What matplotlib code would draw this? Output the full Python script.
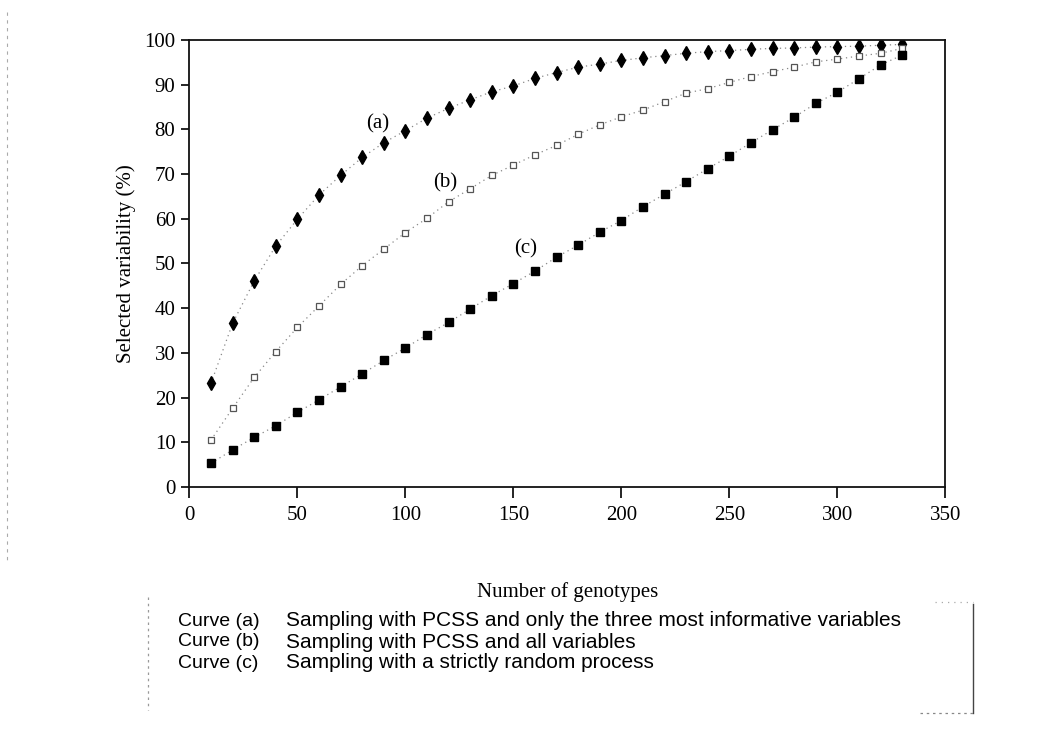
import matplotlib
matplotlib.use("Agg")
import matplotlib.pyplot as plt
from matplotlib.lines import Line2D

# Number of genotypes sampled
genotypes = [10, 20, 30, 40, 50, 60, 70, 80, 90, 100, 110, 120, 130, 140, 150,
             160, 170, 180, 190, 200, 210, 220, 230, 240, 250, 260, 270, 280,
             290, 300, 310, 320, 330]

# Curve (a): PCSS with the three most informative variables
curve_a = [23.2, 36.6, 46.1, 53.9, 59.9, 65.3, 69.7, 73.7, 77.0, 79.7, 82.5,
           84.7, 86.6, 88.4, 89.7, 91.4, 92.7, 93.9, 94.6, 95.4, 96.0, 96.5,
           97.0, 97.4, 97.6, 97.9, 98.1, 98.2, 98.4, 98.5, 98.6, 98.8, 99.0]

# Curve (b): PCSS with all variables
curve_b = [10.5, 17.6, 24.5, 30.3, 35.7, 40.5, 45.3, 49.5, 53.2, 56.9, 60.1,
           63.8, 66.7, 69.7, 72.0, 74.3, 76.4, 78.9, 81.0, 82.8, 84.3, 86.2,
           88.1, 89.1, 90.5, 91.8, 92.9, 93.9, 95.1, 95.7, 96.4, 97.0, 98.1]

# Curve (c): strictly random sampling
curve_c = [5.3, 8.3, 11.1, 13.7, 16.7, 19.5, 22.4, 25.3, 28.3, 31.1, 34.1,
           36.8, 39.8, 42.8, 45.5, 48.3, 51.4, 54.1, 57.0, 59.6, 62.7, 65.5,
           68.3, 71.2, 74.0, 77.0, 79.9, 82.7, 85.8, 88.3, 91.3, 94.4, 96.6]

x_ticks = [0, 50, 100, 150, 200, 250, 300, 350]
y_ticks = [0, 10, 20, 30, 40, 50, 60, 70, 80, 90, 100]

legend_keys = ["Curve (a)", "Curve (b)", "Curve (c)"]
legend_texts = ["Sampling with PCSS and only the three most informative variables",
                "Sampling with PCSS and all variables",
                "Sampling with a strictly random process"]

serif = ["Liberation Serif", "DejaVu Serif"]
sans = ["Liberation Sans", "DejaVu Sans"]

fig = plt.figure(figsize=(10.61, 7.39), dpi=100)
ax = fig.add_axes([0.1785, 0.341, 0.7125, 0.605])

line_kw = dict(color="#888888", linestyle=(0, (1, 3)), linewidth=0.9)
ax.plot(genotypes, curve_a, marker="d", markersize=7.5, markerfacecolor="black",
        markeredgecolor="black", **line_kw)
ax.plot(genotypes, curve_b, marker="s", markersize=5, markerfacecolor="white",
        markeredgecolor="#555555", markeredgewidth=0.9, **line_kw)
ax.plot(genotypes, curve_c, marker="s", markersize=6, markerfacecolor="black",
        markeredgecolor="black", **line_kw)

ax.text(87, 81.2, "(a)", fontsize=15, family=serif, ha="center", va="center")
ax.text(118.4, 68.0, "(b)", fontsize=15, family=serif, ha="center", va="center")
ax.text(155.5, 53.3, "(c)", fontsize=15, family=serif, ha="center", va="center")

ax.set_xlim(0, 350)
ax.set_ylim(0, 100)
ax.set_xticks(x_ticks)
ax.set_yticks(y_ticks)
ax.set_xticklabels([str(v) for v in x_ticks], fontsize=15, family=serif)
ax.set_yticklabels([str(v) for v in y_ticks], fontsize=15, family=serif)
ax.tick_params(axis="x", direction="out", length=8, width=1.2, pad=6)
ax.tick_params(axis="y", direction="out", length=6, width=1.2, pad=4)
for side in ["left", "bottom", "top", "right"]:
    ax.spines[side].set_linewidth(1.3)
    ax.spines[side].set_color("#111111")
ax.spines["top"].set_linestyle((0, (8, 1)))

ax.set_xlabel("Number of genotypes", fontsize=15, family=serif, labelpad=41)
ax.set_ylabel("Selected variability (%)", fontsize=15, family=serif, labelpad=6)

# Caption box describing the three curves
def fx(px):
    return px / 1061.0

def fy(py):
    return 1.0 - py / 739.0

fig.add_artist(Line2D([fx(148), fx(148)], [fy(597), fy(710)], transform=fig.transFigure,
                      color="#999999", linestyle=(0, (2, 3)), linewidth=0.9))
fig.add_artist(Line2D([fx(973), fx(973)], [fy(604), fy(713)], transform=fig.transFigure,
                      color="#444444", linewidth=1.0))
fig.add_artist(Line2D([fx(920), fx(973)], [fy(713), fy(713)], transform=fig.transFigure,
                      color="#888888", linestyle=(0, (2, 3)), linewidth=0.9))
fig.add_artist(Line2D([fx(935), fx(973)], [fy(602), fy(602)], transform=fig.transFigure,
                      color="#aaaaaa", linestyle=(0, (1, 4)), linewidth=0.9))

for i, (key, txt) in enumerate(zip(legend_keys, legend_texts)):
    yy = fy(621 + 21 * i)
    fig.text(fx(178), yy, key, fontsize=14, family=sans, ha="left", va="center")
    fig.text(fx(286), yy, txt, fontsize=15, family=sans, ha="left", va="center")

# Faint page edge on the left
fig.add_artist(Line2D([fx(7), fx(7)], [fy(12), fy(560)], transform=fig.transFigure,
                      color="#aaaaaa", linestyle=(0, (3, 4)), linewidth=0.8))

fig.savefig("out.png", dpi=100)
